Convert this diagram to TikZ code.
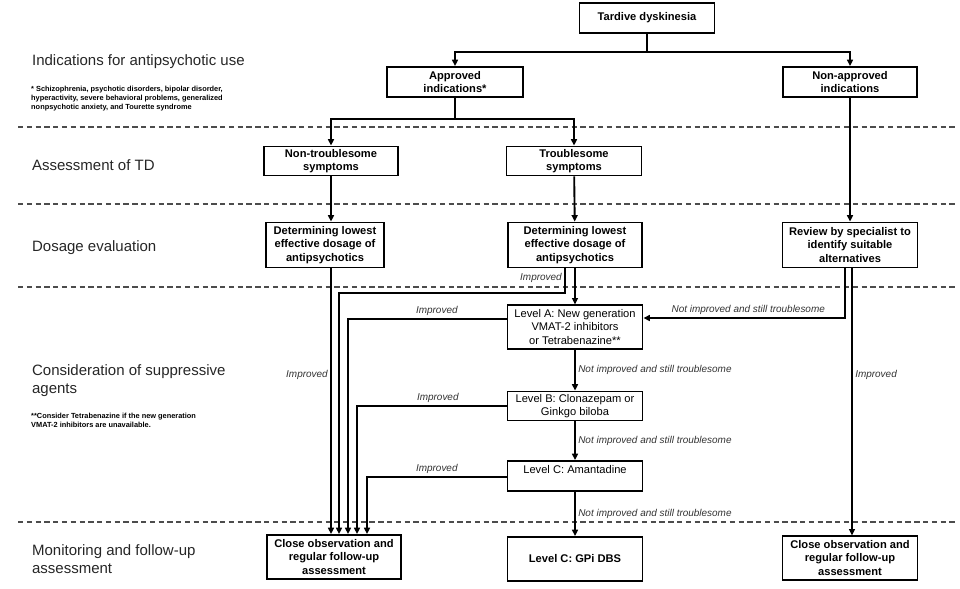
\documentclass[tikz,border=0pt]{standalone}
\usepackage{fontspec}
\setmainfont{Liberation Sans}
\usetikzlibrary{arrows.meta,positioning,calc}

\begin{document}
\begin{tikzpicture}[x=0.03cm,y=-0.03cm,>={Triangle[length=5.5pt,width=5pt]},
  bx/.style={draw,line width=1.5pt,align=center,inner sep=1pt,font=\fontsize{9.5}{11.4}\selectfont\bfseries},
  lvl/.style={bx,font=\fontsize{9.5}{11.4}\selectfont},
  arr/.style={->,line width=1.6pt},
  imp/.style={font=\fontsize{8.5}{10}\selectfont\itshape,text=black!80,inner sep=2pt},
  sect/.style={anchor=west,align=left,text=black!85,font=\fontsize{12.8}{15.3}\selectfont},
  note/.style={anchor=north west,align=left,inner sep=0pt,font=\fontsize{6.3}{7.7}\selectfont\bfseries},
  sep/.style={line width=1pt,black!70,dash pattern=on 4.5pt off 3pt}]
\useasboundingbox (0,0) rectangle (960,588);
\draw[sep] (18,127) -- (958,127);
\draw[sep] (18,204) -- (958,204);
\draw[sep] (18,287) -- (958,287);
\draw[sep] (18,522) -- (958,522);
\node[sect] (s1) at (28,62) {Indications for antipsychotic use};
\node[note] (n1) at (31,86) {* Schizophrenia, psychotic disorders, bipolar disorder,\\hyperactivity, severe behavioral problems, generalized\\nonpsychotic anxiety, and Tourette syndrome};
\node[sect] (s2) at (28,165) {Assessment of TD};
\node[sect] (s3) at (28,248) {Dosage evaluation};
\node[sect] (s4) at (28,381) {Consideration of suppressive\\agents};
\node[note] (n4) at (31,413) {**Consider Tetrabenazine if the new generation\\VMAT-2 inhibitors are unavailable.};
\node[sect] (s5) at (28,559) {Monitoring and follow-up\\assessment};
\node[bx,minimum width=4.05cm,minimum height=0.9cm] (T) at (647,18) {Tardive dyskinesia};
\node[bx,minimum width=4.1cm,minimum height=0.9cm] (AI) at (455,82) {Approved\\indications*};
\node[bx,minimum width=4.0cm,minimum height=0.9cm] (NA) at (850,82) {Non-approved\\indications};
\node[bx,minimum width=4.0cm,minimum height=0.87cm] (NT) at (331,161) {Non-troublesome\\symptoms};
\node[bx,minimum width=4.05cm,minimum height=0.87cm] (TS) at (574,161) {Troublesome\\symptoms};
\node[bx,minimum width=3.55cm,minimum height=1.35cm] (ND) at (325,245) {Determining lowest\\effective dosage of\\antipsychotics};
\node[bx,minimum width=4.0cm,minimum height=1.35cm] (TD) at (575,245) {Determining lowest\\effective dosage of\\antipsychotics};
\node[bx,minimum width=4.05cm,minimum height=1.35cm] (RV) at (850,245) {Review by specialist to\\identify suitable\\alternatives};
\node[lvl,minimum width=4.05cm,minimum height=1.3cm] (LA) at (575,327) {Level A: New generation\\VMAT-2 inhibitors\\or Tetrabenazine**};
\node[lvl,minimum width=4.05cm,minimum height=0.87cm] (LB) at (575,406) {Level B: Clonazepam or\\Ginkgo biloba};
\node[lvl,minimum width=4.05cm,minimum height=0.9cm] (LC) at (575,476) {Level C: Amantadine\\ \mbox{}};
\node[bx,minimum width=4.05cm,minimum height=1.32cm] (GP) at (575,559) {Level C: GPi DBS};
\node[bx,minimum width=4.0cm,minimum height=1.32cm] (CL) at (334,557) {Close observation and\\regular follow-up\\assessment};
\node[bx,minimum width=4.05cm,minimum height=1.3cm] (CR) at (850,558) {Close observation and\\regular follow-up\\assessment};
\draw[arr] (T.south) -- ++(0,18) -| (AI.north);
\draw[arr] (T.south) -- ++(0,18) -| (NA.north);
\draw[arr] (AI.south) -- ++(0,21) -| (NT.north);
\draw[arr] (AI.south) -- ++(0,21) -| (TS.north);
\draw[arr] (NT.south) -- (NT.south |- ND.north);
\draw[arr] (TS) -- (TD);
\draw[arr] (NA) -- (RV);
\draw[arr] (NT.south |- ND.south) -- node[imp,left,pos=0.4]{Improved} (NT.south |- CL.north);
\draw[arr] ($(TD.south)+(-10,0)$) -- node[imp,left,pos=0.4]{Improved} ++(0,25) -| ($(CL.north)+(5,0)$);
\draw[arr] (TD) -- (LA);
\draw[arr] ($(RV.south)+(-5,0)$) |- node[imp,above,pos=0.74]{Not improved and still troublesome} ($(LA.east)+(0,-9)$);
\draw[arr] ($(RV.south)+(2,0)$) -- node[imp,right,pos=0.4]{Improved} ($(CR.north)+(2,0)$);
\draw[arr] (LA) -- node[imp,right]{Not improved and still troublesome} (LB);
\draw[arr] (LB) -- node[imp,right]{Not improved and still troublesome} (LC);
\draw[arr] (LC) -- node[imp,right]{Not improved and still troublesome} (GP);
\draw[arr] ($(LA.west)+(0,-8)$) -| node[imp,above,pos=0.22]{Improved} ($(CL.north)+(14,0)$);
\draw[arr] (LB.west) -| node[imp,above,pos=0.23]{Improved} ($(CL.north)+(23,0)$);
\draw[arr] ($(LC.west)+(0,1)$) -| node[imp,above,pos=0.25]{Improved} ($(CL.north)+(33,0)$);
\end{tikzpicture}
\end{document}
